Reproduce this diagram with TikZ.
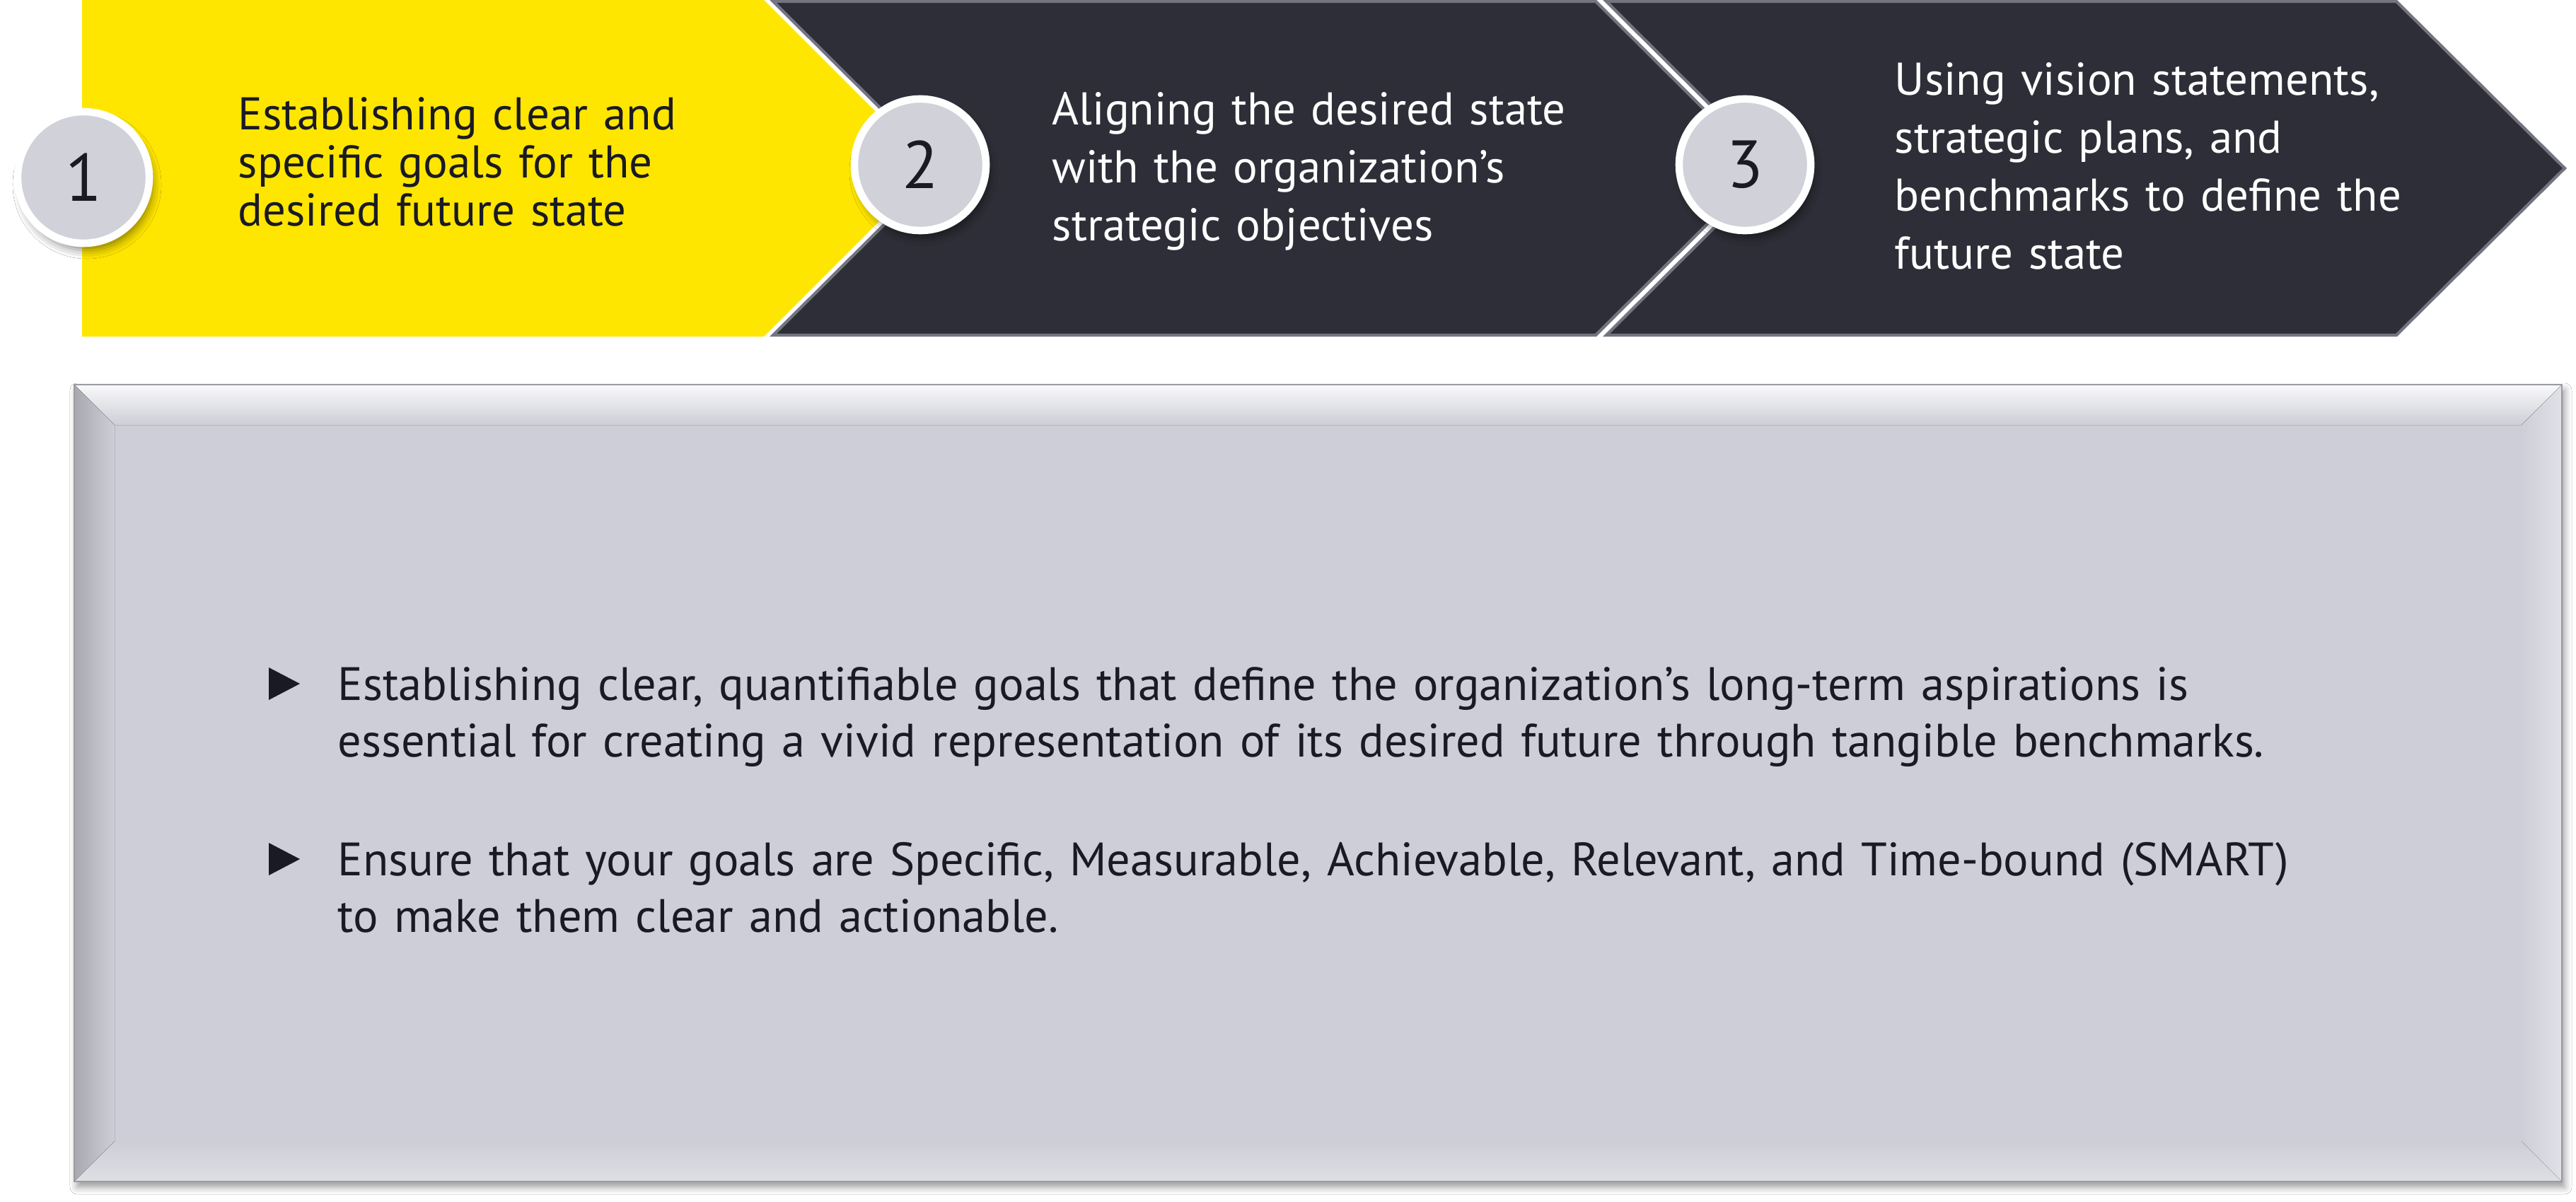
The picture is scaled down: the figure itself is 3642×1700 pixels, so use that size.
\documentclass[tikz,border=0pt]{standalone}
\usepackage{fontspec}
\setmainfont{PT Sans}
\usetikzlibrary{shadows.blur}
\definecolor{eyyellow}{HTML}{FFE600}
\definecolor{eydark}{HTML}{2E2E38}
\definecolor{eyedge}{HTML}{747480}
\definecolor{eyink}{HTML}{1A1A24}
\definecolor{discfill}{HTML}{D0D1D9}
\definecolor{panel}{HTML}{CDCED7}
\begin{document}
\begin{tikzpicture}[x=0.01cm,y=-0.01cm,
  darkchev/.style={fill=eydark,draw=eyedge,line width=1.2pt,line join=miter},
  disc/.style={circle,fill=discfill,draw=white,line width=3pt,minimum size=1.86cm,inner sep=0,
    font=\fontsize{27}{27}\selectfont,text=eyink,
    blur shadow={shadow xshift=0.05cm,shadow yshift=-0.1cm,shadow blur radius=0.12cm,shadow opacity=45}},
  steptext/.style={anchor=base west,inner sep=0,align=left,text width=8.4cm,font=\fontsize{18.45}{23.3}\selectfont},
  pointtext/.style={anchor=base west,inner sep=0,align=left,text width=30cm,text=eyink,font=\fontsize{18.85}{23}\selectfont},
  pointmark/.style={fill=eyink}]
\useasboundingbox (0,0) rectangle (3642,1700);
\fill[white] (0,0) rectangle (3642,1700);

% step bands
\fill[eyyellow] (116,0) -- (1080,0) -- (1318,238) -- (1080,476) -- (116,476) -- cycle;
\draw[darkchev] (1093,2) -- (2256,2) -- (2493,238) -- (2256,474) -- (1093,474) -- (1330,238) -- cycle;
\draw[darkchev] (2271,2) -- (3388,2) -- (3626,238) -- (3388,474) -- (2271,474) -- (2508,238) -- cycle;

% numbered discs
\node[disc] (n1) at (118,251) {1};
\node[disc] (n2) at (1301,233) {2};
\node[disc] (n3) at (2467,233) {3};

% step captions
\node[steptext,text=eyink,font=\fontsize{18.45}{19.4}\selectfont] (t1) at (336,183)
  {Establishing clear and\\specific goals for the\\desired future state};
\node[steptext,text=white] (t2) at (1487,177)
  {Aligning the desired state\\with the organization’s\\strategic objectives};
\node[steptext,text=white] (t3) at (2678,135)
  {Using vision statements,\\strategic plans, and\\benchmarks to define the\\future state};

% bevelled panel
\fill[panel,blur shadow={shadow xshift=0.04cm,shadow yshift=-0.08cm,shadow blur radius=0.1cm,shadow opacity=40}]
  (105,544) rectangle (3622,1671);
\fill[top color=white!88!panel,bottom color=panel] (105,544) -- (3622,544) -- (3565,601) -- (162,601) -- cycle;
\fill[left color=panel!80!black!95,right color=panel] (105,544) -- (162,601) -- (162,1614) -- (105,1671) -- cycle;
\fill[left color=panel,right color=white!40!panel] (3622,544) -- (3622,1671) -- (3565,1614) -- (3565,601) -- cycle;
\fill[top color=panel,bottom color=white!35!panel] (105,1671) -- (162,1614) -- (3565,1614) -- (3622,1671) -- cycle;
\draw[panel!75!black,line width=0.4pt] (105,544) rectangle (3622,1671);

% bullet points
\fill[pointmark] (380,944) -- (424,967) -- (380,990) -- cycle;
\node[pointtext] (p1) at (477,990)
  {Establishing clear, quantifiable goals that define the organization’s long-term aspirations is\\essential for creating a vivid representation of its desired future through tangible benchmarks.};
\fill[pointmark] (380,1192) -- (424,1215) -- (380,1238) -- cycle;
\node[pointtext] (p2) at (477,1238)
  {Ensure that your goals are Specific, Measurable, Achievable, Relevant, and Time-bound (SMART)\\to make them clear and actionable.};
\end{tikzpicture}
\end{document}
